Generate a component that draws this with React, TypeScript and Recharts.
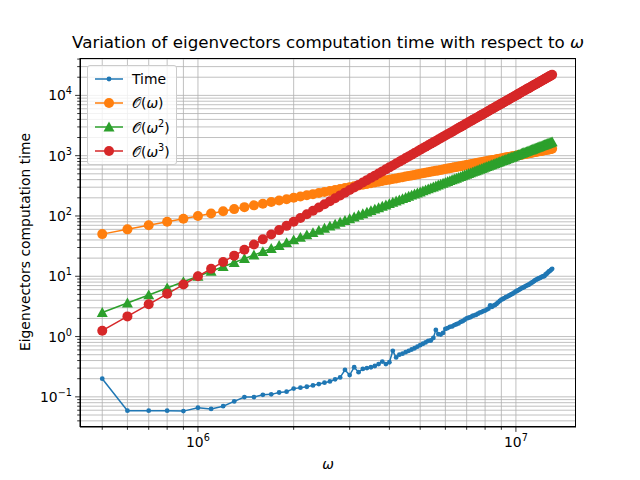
import React from 'react';
import { ComposedChart, Line, XAxis, YAxis, CartesianGrid } from 'recharts';

// omega in units of 1e5
const omega100k: number[] = [5,6,7,8,9,10,11,12,13,14,15,16,17,18,19,20,21,22,23,24,25,26,27,28,29,30,31,32,33,34,35,36,37,38,39,40,41,42,43,44,45,46,47,48,49,50,51,52,53,54,55,56,57,58,59,60,61,62,63,64,65,66,67,68,69,70,71,72,73,74,75,76,77,78,79,80,81,82,83,84,85,86,87,88,89,90,91,92,93,94,95,96,97,98,99,100,101,102,103,104,105,106,107,108,109,110,111,112,113,114,115,116,117,118,119,120,121,122,123,124,125,126,127,128,129,130];
const timeVals: number[] = [0.2,0.059,0.059,0.059,0.058,0.066,0.063,0.07,0.084,0.099,0.099,0.108,0.11,0.118,0.122,0.137,0.142,0.147,0.155,0.163,0.172,0.18,0.195,0.21,0.28,0.23,0.31,0.257,0.29,0.3,0.31,0.325,0.35,0.385,0.35,0.375,0.58,0.45,0.5,0.52,0.55,0.58,0.61,0.64,0.68,0.72,0.76,0.8,0.85,0.86,0.95,1.29,1.1,1.08,1.15,1.34,1.38,1.45,1.47,1.55,1.6,1.65,1.75,1.8,1.9,2.0,2.05,2.1,2.2,2.25,2.3,2.4,2.5,2.55,2.65,2.7,2.8,2.9,3.3,3.1,3.25,3.35,3.5,3.7,3.9,4.1,4.2,4.35,4.5,4.6,4.75,4.9,5.05,5.2,5.4,5.6,5.75,5.9,6.1,6.3,6.45,6.6,6.8,7.0,7.15,7.3,7.55,7.8,8.0,8.3,8.6,8.8,9.0,9.2,9.4,9.6,9.9,10.0,10.1,10.7,11.0,11.5,12.0,12.3,12.8,13.3];
const C1 = 1e-4, C2 = 1e-11, C3 = 1e-17;
const xTicks: number[] = [5e5,6e5,7e5,8e5,9e5,1e6,2e6,3e6,4e6,5e6,6e6,7e6,8e6,9e6,1e7];
const yTicks: number[] = [0.04,0.05,0.06,0.07,0.08,0.09,0.1,0.2,0.3,0.4,0.5,0.6,0.7,0.8,0.9,1,2,3,4,5,6,7,8,9,10,20,30,40,50,60,70,80,90,100,200,300,400,500,600,700,800,900,1000,2000,3000,4000,5000,6000,7000,8000,9000,10000,20000,30000,40000];

const data = omega100k.map((o, i) => {
  const w = o * 1e5;
  return { w, t: timeVals[i], o1: C1 * w, o2: C2 * w * w, o3: C3 * w * w * w };
});

const FONT = 'DejaVu Sans';
const isPow = (v: number) => Math.abs(Math.log10(v) - Math.round(Math.log10(v))) < 1e-9;

const XTick = (p: any) => {
  const v = p.payload.value; const major = isPow(v);
  const e = Math.round(Math.log10(v));
  return (
    <g>
      <line x1={p.x} x2={p.x} y1={p.y - 8} y2={p.y - 8 + (major ? 4.9 : 2.8)} stroke="#000" strokeWidth={0.8} />
      {major && (
        <text x={p.x} y={p.y + 12} textAnchor="middle" fontFamily={FONT} fontSize={13.9} fill="#000">
          10<tspan fontSize={9.7} dy={-6}>{e}</tspan>
        </text>
      )}
    </g>
  );
};

const YTick = (p: any) => {
  const v = p.payload.value; const major = isPow(v);
  const e = Math.round(Math.log10(v));
  const x0 = p.x + 8;
  return (
    <g>
      <line x1={x0} x2={x0 - (major ? 4.9 : 2.8)} y1={p.y} y2={p.y} stroke="#000" strokeWidth={0.8} />
      {major && (
        <text x={x0 - 8} y={p.y + 5} textAnchor="end" fontFamily={FONT} fontSize={13.9} fill="#000">
          10<tspan fontSize={9.7} dy={-6}>{e < 0 ? '\u2212' + (-e) : e}</tspan>
        </text>
      )}
    </g>
  );
};

const Tri = (p: any) => {
  const { cx, cy } = p; const s = 5.5;
  return <polygon key={p.index} points={`${cx},${cy - s} ${cx - s},${cy + s * 0.8} ${cx + s},${cy + s * 0.8}`} fill="#2ca02c" />;
};

const legendItems = [
  { label: 'Time', color: '#1f77b4', m: 'small' },
  { label: 'O(ω)', color: '#ff7f0e', m: 'circle' },
  { label: 'O(ω2)', color: '#2ca02c', m: 'tri' },
  { label: 'O(ω3)', color: '#d62728', m: 'circle' },
];

export default function App() {
  return (
    <div style={{ position: 'absolute', left: 0, top: 0, width: 640, height: 480, background: '#fff', fontFamily: FONT }}>
      <ComposedChart width={640} height={480} data={data} margin={{ top: 58, right: 64, bottom: 23, left: 20 }}>
        <CartesianGrid stroke="#b0b0b0" strokeWidth={0.8} horizontalValues={yTicks} verticalValues={xTicks} />
        <XAxis dataKey="w" type="number" scale="log" domain={[Math.pow(10, 5.629), Math.pow(10, 7.189)]} allowDataOverflow ticks={xTicks} interval={0} tick={<XTick />} tickLine={false} height={30} stroke="#000" />
        <YAxis type="number" scale="log" domain={[Math.pow(10, -1.5), Math.pow(10, 4.62)]} allowDataOverflow ticks={yTicks} interval={0} tick={<YTick />} tickLine={false} width={60} stroke="#000" />
        <Line dataKey="t" stroke="#1f77b4" strokeWidth={1.5} dot={{ r: 2.4, fill: '#1f77b4', stroke: 'none' }} isAnimationActive={false} />
        <Line dataKey="o1" stroke="#ff7f0e" strokeWidth={1.5} dot={{ r: 5, fill: '#ff7f0e', stroke: 'none' }} isAnimationActive={false} />
        <Line dataKey="o2" stroke="#2ca02c" strokeWidth={1.5} dot={<Tri />} isAnimationActive={false} />
        <Line dataKey="o3" stroke="#d62728" strokeWidth={1.5} dot={{ r: 5, fill: '#d62728', stroke: 'none' }} isAnimationActive={false} />
      </ComposedChart>
      <div style={{ position: 'absolute', left: 80, top: 58, width: 496, height: 369, border: '0.8px solid #000', boxSizing: 'border-box', pointerEvents: 'none' }} />
      <div style={{ position: 'absolute', left: 0, width: 656, top: 32, textAlign: 'center', fontSize: 16.7 }}>
        Variation of eigenvectors computation time with respect to <i>ω</i>
      </div>
      <div style={{ position: 'absolute', left: 80, width: 496, top: 456, textAlign: 'center', fontSize: 13.9 }}><i>ω</i></div>
      <div style={{ position: 'absolute', left: 25, top: 242, transform: 'translate(-50%,-50%) rotate(-90deg)', whiteSpace: 'nowrap', fontSize: 13.9 }}>
        Eigenvectors computation time
      </div>
      <div style={{ position: 'absolute', left: 87, top: 65, width: 90, height: 100, background: 'rgba(255,255,255,0.8)', border: '1px solid #ccc', borderRadius: 3, boxSizing: 'border-box', fontSize: 13.9 }}>
        {legendItems.map((it, i) => (
          <div key={i} style={{ position: 'absolute', left: 6, top: 3 + i * 24, height: 20, display: 'flex', alignItems: 'center' }}>
            <svg width={30} height={20}>
              <line x1={1} x2={29} y1={10} y2={10} stroke={it.color} strokeWidth={1.5} />
              {it.m === 'small' && <circle cx={15} cy={10} r={2.4} fill={it.color} />}
              {it.m === 'circle' && <circle cx={15} cy={10} r={5} fill={it.color} />}
              {it.m === 'tri' && <polygon points="15,4.5 9.5,14.4 20.5,14.4" fill={it.color} />}
            </svg>
            <span style={{ marginLeft: 8 }}>
              {i === 0 ? 'Time' : <>𝒪(<i>ω</i>{i > 1 && <sup style={{ fontSize: 9.7 }}>{i}</sup>})</>}
            </span>
          </div>
        ))}
      </div>
    </div>
  );
}
